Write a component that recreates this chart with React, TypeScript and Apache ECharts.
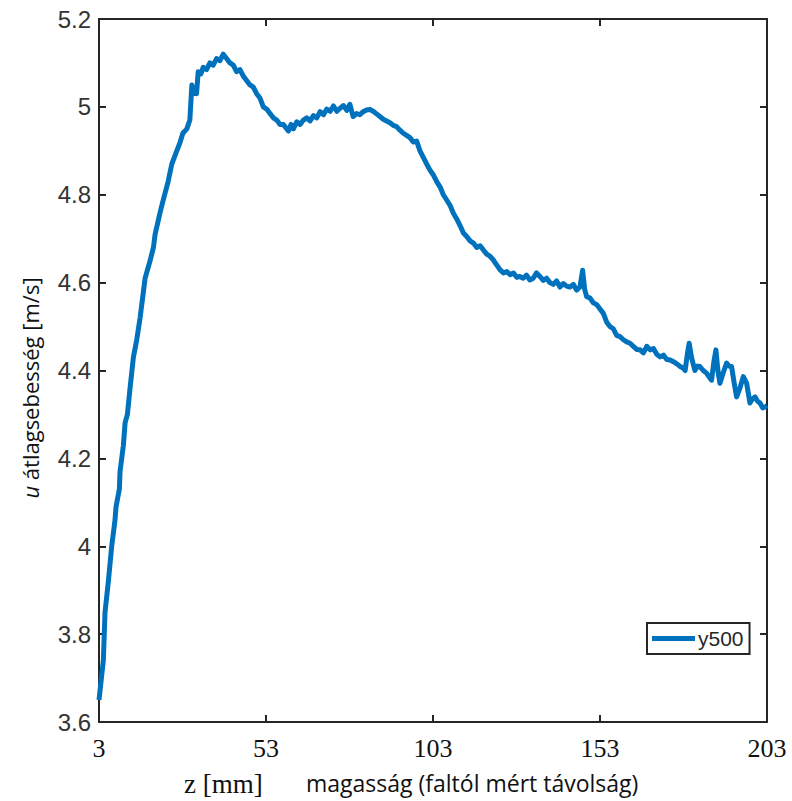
import React, { useEffect, useRef } from "react";
import * as echarts from "echarts";

const zValues: number[] = [
  3, 4.3, 4.8, 5.8, 6.8, 7.8, 8.1, 9.1, 9.3, 10.3, 10.8, 11.5, 12.3, 13.3, 14.3, 15.3, 15.8, 16.8,
  18.3, 19.3, 19.8, 21.3, 22.3, 23.7, 24.8, 25.8, 27.3, 28.1, 29.3,
  30.2, 30.8, 31.3, 31.7, 32.2, 32.7, 33.5, 34.2, 35.2, 36.2, 37.2, 38.2, 39.2, 40.2, 41.2, 42.2, 43.2,
  44.2, 45.2, 46.2, 47.2, 48.2, 49.2, 50.2, 51.2, 52.2, 53.2, 54.2, 55.2, 56.2, 57.2, 58.2, 59.2, 59.7,
  60.5, 61.2, 62.2, 63.2, 64.2, 65.2, 66.2, 67.2, 68.2, 69.2, 70.2, 71.2, 72.2, 73.2, 74.2, 75.2, 76.2,
  77.2, 78.1, 79.1, 80.1, 81.1, 82.1, 83.1, 84.1, 85.1, 86.1, 87.1, 88.1, 89.1, 90.1, 91.1, 92.1, 93.1,
  94.1, 95.1, 96.1, 97.1, 98.1, 99.1, 100.1, 101.1, 102.1, 103.1, 104.1, 105.1, 106.1, 107.1, 108.1,
  109.1, 110.1, 111.1, 112.1, 113.1, 114.1, 115.1, 116.1, 117.1, 118.1, 119.1, 120.1, 121.1, 122.1,
  123.1, 124.1, 125.1, 126.1, 127.1, 128.1, 129, 130, 131, 132, 133, 134, 135, 136, 137, 138, 139, 140,
  141, 142, 143, 144, 145, 146, 147, 147.8, 148.4, 149, 150, 151, 152, 153, 154, 155, 156, 157, 158,
  159, 160, 161, 162, 163, 164, 165, 166, 167, 168, 169, 170, 171, 172, 173, 174, 175, 176, 177, 178,
  178.5, 179.2, 179.7, 180.4, 181.4, 182.2, 182.9, 183.9, 184.9, 185.7, 186.4, 187.1, 187.7, 188.3,
  188.9, 189.9, 190.9, 191.6, 192.4, 193.2, 193.9, 194.9, 195.9, 196.9, 197.9, 198.6, 199.4, 200.2,
  200.9, 201.7, 202.4, 203,
];

const uValues: number[] = [
  3.65, 3.74, 3.85, 3.92, 4.0, 4.06, 4.09, 4.13, 4.17, 4.23, 4.28, 4.3, 4.36, 4.43, 4.47, 4.52, 4.55, 4.61,
  4.65, 4.68, 4.71, 4.76, 4.79, 4.83, 4.87, 4.89, 4.92, 4.94, 4.95,
  4.97, 5.05, 5.03, 5.04, 5.03, 5.08, 5.075, 5.09, 5.085, 5.1, 5.095, 5.11, 5.105, 5.12, 5.11, 5.1, 5.095,
  5.08, 5.085, 5.07, 5.06, 5.05, 5.045, 5.03, 5.02, 5.0, 4.995, 4.985, 4.975, 4.97, 4.96, 4.96, 4.95, 4.945,
  4.96, 4.95, 4.966, 4.96, 4.97, 4.975, 4.968, 4.98, 4.975, 4.989, 4.982, 4.995, 4.99, 5.002, 4.99, 4.997, 5.003,
  4.992, 5.006, 4.978, 4.985, 4.982, 4.989, 4.993, 4.994, 4.99, 4.984, 4.978, 4.972, 4.968, 4.964, 4.958, 4.955, 4.947,
  4.94, 4.935, 4.93, 4.92, 4.922, 4.9, 4.885, 4.87, 4.856, 4.845, 4.83, 4.818, 4.8, 4.788, 4.776,
  4.758, 4.745, 4.73, 4.713, 4.705, 4.695, 4.69, 4.68, 4.684, 4.674, 4.665, 4.66, 4.651, 4.64,
  4.629, 4.622, 4.625, 4.618, 4.622, 4.612, 4.614, 4.61, 4.617, 4.606, 4.61, 4.622, 4.614, 4.605, 4.61, 4.6, 4.596, 4.604,
  4.59, 4.598, 4.592, 4.59, 4.596, 4.583, 4.59, 4.628, 4.585, 4.568, 4.565, 4.554, 4.55, 4.54, 4.53, 4.51, 4.5, 4.495, 4.48,
  4.477, 4.47, 4.465, 4.462, 4.455, 4.448, 4.447, 4.44, 4.455, 4.447, 4.45, 4.437, 4.431, 4.435, 4.425, 4.424, 4.42, 4.415, 4.409, 4.405,
  4.4, 4.44, 4.462, 4.43, 4.4, 4.41, 4.409, 4.4, 4.394, 4.385, 4.378, 4.42, 4.447, 4.4,
  4.371, 4.395, 4.417, 4.41, 4.409, 4.37, 4.34, 4.36, 4.386, 4.371, 4.326, 4.335, 4.34, 4.33,
  4.326, 4.315, 4.317, 4.32,
];

const xTicks: number[] = [3, 53, 103, 153, 203];
const yTicks: number[] = [3.6, 3.8, 4, 4.2, 4.4, 4.6, 4.8, 5, 5.2];
const seriesName = "y500";

export default function App() {
  const ref = useRef<HTMLDivElement>(null);
  useEffect(() => {
    if (!ref.current) return;
    const chart = echarts.init(ref.current, undefined, { renderer: "svg" });
    const data = zValues.map((z, i) => [z, uValues[i]]);
    const axisColor = "#262626";
    const xBase = {
      type: "value" as const,
      min: 3,
      max: 203,
      splitLine: { show: false },
      axisLine: { show: true, onZero: false, lineStyle: { color: axisColor, width: 2 } },
      axisTick: { show: true, inside: true, length: 7, customValues: xTicks, lineStyle: { color: axisColor, width: 2 } },
    };
    const yBase = {
      type: "value" as const,
      min: 3.6,
      max: 5.2,
      splitLine: { show: false },
      axisLine: { show: true, onZero: false, lineStyle: { color: axisColor, width: 2 } },
      axisTick: { show: true, inside: true, length: 7, customValues: yTicks, lineStyle: { color: axisColor, width: 2 } },
    };
    chart.setOption({
      animation: false,
      backgroundColor: "#ffffff",
      grid: { left: 99, top: 19, right: 25, bottom: 79, containLabel: false },
      xAxis: [
        {
          ...xBase,
          position: "bottom",
          axisLabel: {
            customValues: xTicks,
            margin: 13,
            fontFamily: "Liberation Serif",
            fontSize: 26,
            color: "#111111",
          },
        },
        { ...xBase, position: "top", axisLabel: { show: false } },
      ],
      yAxis: [
        {
          ...yBase,
          position: "left",
          axisLabel: {
            customValues: yTicks,
            margin: 8,
            fontFamily: "Liberation Sans",
            fontSize: 24,
            color: "#333333",
            formatter: (v: number) => String(parseFloat(v.toFixed(1))),
          },
        },
        { ...yBase, position: "right", axisLabel: { show: false } },
      ],
      legend: {
        show: true,
        left: 647,
        top: 623,
        orient: "horizontal",
        data: [seriesName],
        icon: "rect",
        itemWidth: 43,
        itemHeight: 5,
        itemGap: 4,
        padding: [5, 6, 5, 5],
        borderColor: axisColor,
        borderWidth: 2,
        backgroundColor: "#ffffff",
        textStyle: { fontFamily: "Liberation Sans", fontSize: 21, color: "#262626", padding: [0, 0, 0, -2] },
      },
      graphic: [
        {
          type: "text",
          left: 184,
          top: 770,
          style: { text: "z [mm]", fontFamily: "Liberation Serif", fontSize: 27, fill: "#111111" },
        },
        {
          type: "text",
          left: 306,
          top: 771,
          style: { text: "magasság (faltól mért távolság)", fontFamily: "Open Sans", fontSize: 23, fill: "#111111" },
        },
        {
          type: "text",
          x: 30,
          y: 388,
          rotation: Math.PI / 2,
          style: {
            text: "{i|u} átlagsebesség [m/s]",
            fontFamily: "Open Sans",
            fontSize: 22,
            fill: "#111111",
            align: "center",
            verticalAlign: "middle",
            rich: {
              i: { fontStyle: "italic", fontFamily: "Open Sans", fontSize: 22, fill: "#111111" },
            },
          },
        },
      ],
      series: [
        {
          name: seriesName,
          type: "line",
          data,
          xAxisIndex: 0,
          yAxisIndex: 0,
          showSymbol: false,
          symbol: "none",
          lineStyle: { color: "#0072BD", width: 5, join: "round" },
          itemStyle: { color: "#0072BD" },
        },
      ],
    });
    return () => chart.dispose();
  }, []);
  return <div ref={ref} style={{ width: 792, height: 801, position: "absolute", left: 0, top: 0 }} />;
}
